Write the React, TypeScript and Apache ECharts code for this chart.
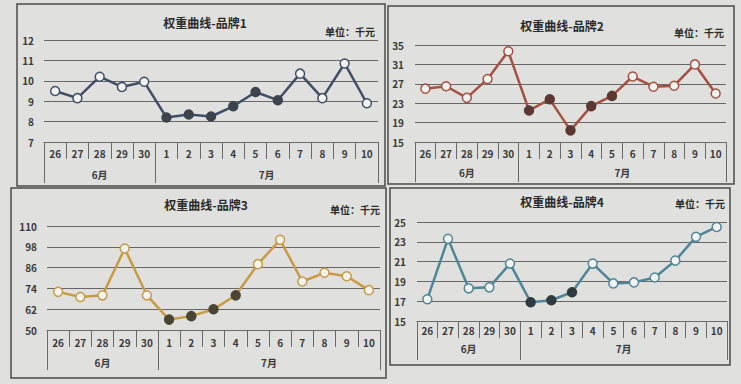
import React, { useEffect, useRef } from 'react';
import * as echarts from 'echarts';

const days = ['26', '27', '28', '29', '30', '1', '2', '3', '4', '5', '6', '7', '8', '9', '10'];
const months = ['6月', '7月'];
const monthCenters = [2, 9.5];
const monthBounds = [-0.5, 4.5, 14.5];
const titles = ['权重曲线-品牌1', '权重曲线-品牌2', '权重曲线-品牌3', '权重曲线-品牌4'];
const unitText = '单位：千元';

const brand1 = [9.5, 9.15, 10.2, 9.7, 9.95, 8.2, 8.35, 8.25, 8.75, 9.45, 9.05, 10.35, 9.15, 10.85, 8.9];
const brand2 = [26.0, 26.5, 24.1, 28.0, 33.7, 21.5, 23.8, 17.4, 22.4, 24.5, 28.5, 26.4, 26.6, 31.0, 25.0];
const brand3 = [72, 69, 70, 97, 70, 56, 58, 62, 70, 88, 102, 78, 83, 81, 73];
const brand4 = [17.2, 23.3, 18.3, 18.4, 20.8, 16.9, 17.1, 17.9, 20.8, 18.8, 18.9, 19.4, 21.1, 23.5, 24.5];

const filled1 = [0, 0, 0, 0, 0, 1, 1, 1, 1, 1, 1, 0, 0, 0, 0];
const filled2 = [0, 0, 0, 0, 0, 1, 1, 1, 1, 1, 0, 0, 0, 0, 0];
const filled3 = [0, 0, 0, 0, 0, 1, 1, 1, 1, 0, 0, 0, 0, 0, 0];
const filled4 = [0, 0, 0, 0, 0, 1, 1, 1, 0, 0, 0, 0, 0, 0, 0];

const yMins = [7, 15, 50, 15];
const yMaxs = [12, 35, 110, 25];
const yIntervals = [1, 4, 12, 2];

const values = [brand1, brand2, brand3, brand4];
const filled = [filled1, filled2, filled3, filled4];

const lineColors = ['#3f4f68', '#a4513f', '#c99a45', '#4f8598'];
const darkColors = ['#3b434d', '#5b3932', '#4a4533', '#2e3b3e'];

const panels = [
  { left: 44, top: 40, width: 334, height: 102, dayMargin: 6, monthMargin: 27, monthLen: 41, yMargin: 10,
    box: [17, 4, 368, 182], title: [205, 22], unit: [350, 31] },
  { left: 415, top: 45, width: 311, height: 97, dayMargin: 6, monthMargin: 25, monthLen: 40, yMargin: 11,
    box: [388, 6, 346, 178], title: [562, 25], unit: [699, 32] },
  { left: 47, top: 226, width: 333, height: 104, dayMargin: 7, monthMargin: 27, monthLen: 40, yMargin: 10,
    box: [11, 188, 375, 190], title: [206, 204], unit: [355, 209] },
  { left: 417, top: 222, width: 310, height: 99, dayMargin: 4, monthMargin: 22, monthLen: 39, yMargin: 11,
    box: [390, 188, 340, 177], title: [562, 201], unit: [700, 203] },
];

const FONT = '"Noto Sans CJK SC", "Noto Sans", sans-serif';
const OPEN_FILL = '#f3f3f1';

export default function App() {
  const ref = useRef<HTMLDivElement>(null);

  useEffect(() => {
    if (!ref.current) return;
    const chart = echarts.init(ref.current, undefined, { renderer: 'svg' });

    const grid: any[] = [];
    const xAxis: any[] = [];
    const yAxis: any[] = [];
    const series: any[] = [];
    const graphic: any[] = [];

    panels.forEach((p, i) => {
      grid.push({ left: p.left, top: p.top, width: p.width, height: p.height, containLabel: false });
      xAxis.push({
        type: 'category',
        gridIndex: i,
        position: 'bottom',
        data: days,
        boundaryGap: true,
        axisLine: { show: true, onZero: false, lineStyle: { color: '#6a6a6a', width: 1 } },
        axisTick: { show: true, interval: 0, length: 17, lineStyle: { color: '#6a6a6a', width: 1 } },
        axisLabel: { interval: 0, margin: p.dayMargin, fontSize: 10, fontWeight: 'bold', color: '#3a3a3a', fontFamily: FONT },
        splitLine: { show: false },
      });
      xAxis.push({
        type: 'value',
        gridIndex: i,
        position: 'bottom',
        min: -0.5,
        max: 14.5,
        axisLine: { show: false, onZero: false },
        axisTick: { show: true, customValues: monthBounds, length: p.monthLen, lineStyle: { color: '#6a6a6a', width: 1 } },
        axisLabel: {
          customValues: monthCenters,
          margin: p.monthMargin,
          fontSize: 10,
          fontWeight: 'bold',
          color: '#3a3a3a',
          fontFamily: FONT,
          formatter: (v: number) => months[monthCenters.indexOf(v)] ?? '',
        },
        splitLine: { show: false },
      });
      yAxis.push({
        type: 'value',
        gridIndex: i,
        min: yMins[i],
        max: yMaxs[i],
        interval: yIntervals[i],
        axisLine: { show: false },
        axisTick: { show: false },
        axisLabel: { margin: p.yMargin, fontSize: 10, fontWeight: 'bold', color: '#3a3a3a', fontFamily: FONT },
        splitLine: { show: true, lineStyle: { color: '#666666', width: 1.2 } },
      });
      series.push({
        type: 'line',
        xAxisIndex: i * 2,
        yAxisIndex: i,
        symbol: 'circle',
        symbolSize: 9,
        lineStyle: { color: lineColors[i], width: 2.5 },
        data: values[i].map((v, j) => ({
          value: v,
          itemStyle: filled[i][j]
            ? { color: darkColors[i], borderColor: darkColors[i], borderWidth: 1.5 }
            : { color: OPEN_FILL, borderColor: lineColors[i], borderWidth: 1.5 },
        })),
      });
      graphic.push({
        type: 'rect',
        shape: { x: p.box[0], y: p.box[1], width: p.box[2], height: p.box[3] },
        style: { fill: 'none', stroke: '#4a4a4a', lineWidth: 1.5 },
        silent: true,
      });
      graphic.push({
        type: 'text',
        x: p.title[0],
        y: p.title[1],
        style: {
          text: titles[i],
          align: 'center',
          verticalAlign: 'middle',
          font: `bold 12px ${FONT}`,
          fill: '#2a2a2a',
        },
      });
      graphic.push({
        type: 'text',
        x: p.unit[0],
        y: p.unit[1],
        style: {
          text: unitText,
          align: 'center',
          verticalAlign: 'middle',
          font: `bold 10px ${FONT}`,
          fill: '#2a2a2a',
        },
      });
    });

    chart.setOption({
      animation: false,
      backgroundColor: '#e0e0df',
      grid,
      xAxis,
      yAxis,
      series,
      graphic,
    });

    return () => chart.dispose();
  }, []);

  return (
    <div
      ref={ref}
      style={{ position: 'fixed', left: 0, top: 0, width: 741, height: 384 }}
    />
  );
}
